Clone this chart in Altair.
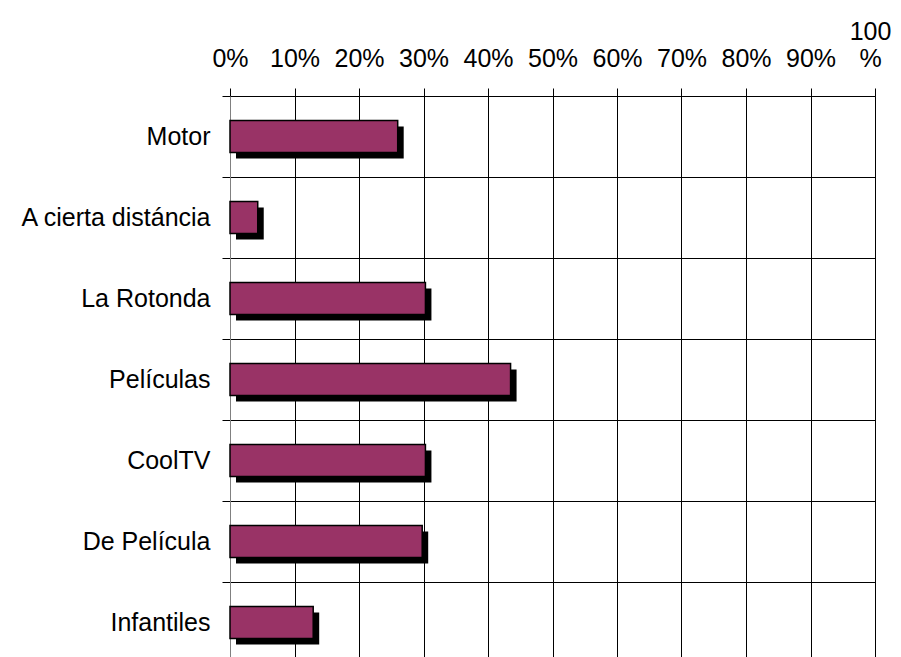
import altair as alt
import pandas as pd

categories = ["Motor", "A cierta distáncia", "La Rotonda", "Películas", "CoolTV", "De Película", "Infantiles"]
values = [26.0, 4.3, 30.3, 43.5, 30.3, 29.8, 12.9]
x_ticks = [0, 10, 20, 30, 40, 50, 60, 70, 80, 90, 100]

df = pd.DataFrame({"cat": categories, "val": values})

FONT = "Liberation Sans"
BAR = "#993366"
FS = 25

y_enc = alt.Y(
    "cat:N",
    sort=categories,
    title=None,
    scale=alt.Scale(paddingInner=0, paddingOuter=0),
    axis=alt.Axis(
        tickBand="extent",
        tickSize=8,
        tickColor="black",
        grid=True,
        gridColor="black",
        gridOpacity=1,
        domainColor="#808080",
        labelFont=FONT,
        labelFontSize=FS,
        labelColor="black",
        labelPadding=12,
        labelLimit=400,
    ),
)

x_enc = alt.X(
    "val:Q",
    title=None,
    scale=alt.Scale(domain=[0, 100], nice=False),
    axis=alt.Axis(
        orient="top",
        values=x_ticks,
        labelExpr="datum.value == 100 ? ['100', '%'] : ['', datum.value + '%']",
        labelOffset={"condition": {"test": "datum.value == 100", "value": -5}, "value": 0},
        tickSize=8,
        tickColor="black",
        domainColor="black",
        grid=True,
        gridColor="black",
        gridOpacity=1,
        labelFont=FONT,
        labelFontSize=FS,
        labelColor="black",
        labelPadding=44,
        labelLineHeight=27,
        labelFlush=False,
        labelOverlap=False,
    ),
)

shadow = alt.Chart(df).mark_bar(color="black", size=32, xOffset=6, yOffset=6).encode(
    x=x_enc, y=y_enc
)
bars = alt.Chart(df).mark_bar(color=BAR, size=32, stroke="black", strokeWidth=1.5).encode(
    x=alt.X("val:Q"), y=alt.Y("cat:N", sort=categories)
)

chart = (
    alt.layer(shadow, bars)
    .properties(
        width=645,
        height=567,
        autosize=alt.AutoSizeParams(type="none"),
        padding={"left": 222, "top": 88, "right": 18, "bottom": 0},
    )
    .configure_view(stroke=None)
    .configure(background="white")
)

chart.save("out.html", embed_options={"renderer": "svg", "actions": False})
